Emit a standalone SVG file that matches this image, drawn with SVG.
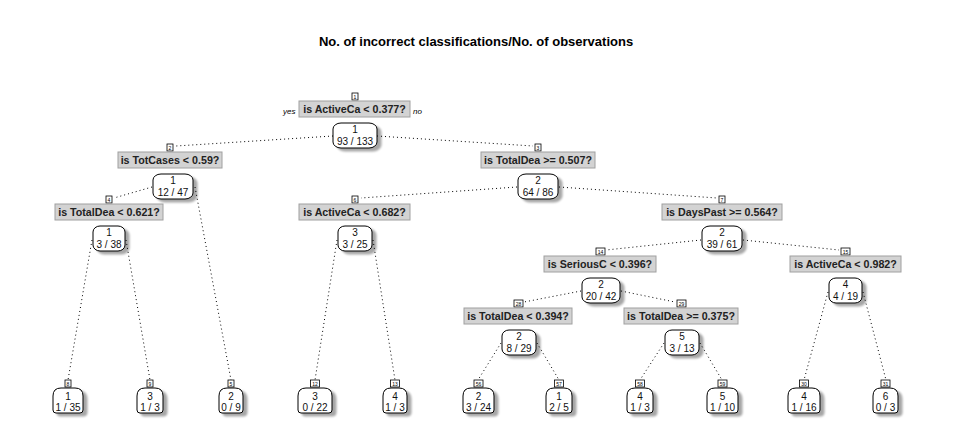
<svg xmlns="http://www.w3.org/2000/svg" width="953" height="444" viewBox="0 0 953 444">
<defs>
<filter id="sh" x="-30%" y="-30%" width="170%" height="180%">
<feGaussianBlur in="SourceAlpha" stdDeviation="1.3"/>
<feOffset dx="4" dy="3"/>
<feComponentTransfer><feFuncA type="linear" slope="0.35"/></feComponentTransfer>
<feMerge><feMergeNode/><feMergeNode in="SourceGraphic"/></feMerge>
</filter>
</defs>
<style>
.title{font-family:"Liberation Sans",Arial,sans-serif;font-size:13px;font-weight:bold;fill:#000}
.lab{fill:#d3d3d3;stroke:#a0a0a0;stroke-width:1}
.labt{font-family:"Liberation Sans",Arial,sans-serif;font-size:10.7px;font-weight:bold;fill:#222;text-anchor:middle}
.box{fill:#fff;stroke:#000;stroke-width:1;filter:url(#sh)}
.nt{font-family:"Liberation Sans",Arial,sans-serif;font-size:10px;fill:#111;text-anchor:middle}
.idb{fill:#fff;stroke:#000;stroke-width:0.8}
.idt{font-family:"Liberation Sans",Arial,sans-serif;font-size:5px;fill:#000;text-anchor:middle}
.yn{font-family:"Liberation Sans",Arial,sans-serif;font-size:8px;font-style:italic;fill:#000}
.br{fill:none;stroke:#000;stroke-width:1;stroke-dasharray:1 3}
</style>
<rect width="953" height="444" fill="#fff"/>
<text class="title" x="476" y="46" text-anchor="middle">No. of incorrect classifications/No. of observations</text>

<g id="connectors">
<line class="br" x1="333" y1="136" x2="176" y2="146"/>
<line class="br" x1="377" y1="136" x2="533" y2="146"/>
<line class="br" x1="152" y1="187" x2="114" y2="198"/>
<line class="br" x1="195" y1="187" x2="231" y2="380"/>
<line class="br" x1="92" y1="240" x2="68" y2="380"/>
<line class="br" x1="126" y1="240" x2="150" y2="380"/>
<line class="br" x1="517" y1="187" x2="361" y2="198"/>
<line class="br" x1="559" y1="187" x2="717" y2="198"/>
<line class="br" x1="337" y1="240" x2="315" y2="380"/>
<line class="br" x1="373" y1="240" x2="395" y2="380"/>
<line class="br" x1="701" y1="240" x2="606" y2="250"/>
<line class="br" x1="743" y1="240" x2="839" y2="250"/>
<line class="br" x1="581" y1="291" x2="524" y2="302"/>
<line class="br" x1="621" y1="291" x2="675" y2="302"/>
<line class="br" x1="828" y1="292" x2="804" y2="380"/>
<line class="br" x1="863" y1="292" x2="886" y2="380"/>
<line class="br" x1="501" y1="343" x2="478" y2="380"/>
<line class="br" x1="537" y1="343" x2="559" y2="380"/>
<line class="br" x1="664" y1="343" x2="640" y2="380"/>
<line class="br" x1="700" y1="343" x2="722" y2="380"/>
</g>

<!-- interior nodes -->
<g id="node1">
<rect class="idb" x="352" y="93" width="6" height="7"/><text class="idt" x="355" y="98.5">1</text>
<rect class="lab" x="299" y="101" width="111" height="16"/><text class="labt" x="354.5" y="113">is ActiveCa &lt; 0.377?</text>
<text class="yn" x="283" y="114">yes</text><text class="yn" x="413" y="114">no</text>
<rect class="box" x="333" y="123" width="44" height="25" rx="8" ry="6"/>
<text class="nt" x="355" y="133">1</text><text class="nt" x="355" y="145">93 / 133</text>
</g>
<g id="node2">
<rect class="idb" x="167" y="144" width="6" height="7"/><text class="idt" x="170" y="149.5">2</text>
<rect class="lab" x="118" y="152" width="104" height="16"/><text class="labt" x="170" y="164">is TotCases &lt; 0.59?</text>
<rect class="box" x="153" y="174" width="40" height="25" rx="8" ry="6"/>
<text class="nt" x="173" y="184">1</text><text class="nt" x="173" y="196">12 / 47</text>
</g>
<g id="node3">
<rect class="idb" x="535" y="144" width="6" height="7"/><text class="idt" x="538" y="149.5">3</text>
<rect class="lab" x="481" y="152" width="114" height="16"/><text class="labt" x="538" y="164">is TotalDea &gt;= 0.507?</text>
<rect class="box" x="518" y="174" width="40" height="25" rx="8" ry="6"/>
<text class="nt" x="538" y="184">2</text><text class="nt" x="538" y="196">64 / 86</text>
</g>
<g id="node4">
<rect class="idb" x="106" y="196" width="6" height="7"/><text class="idt" x="109" y="201.5">4</text>
<rect class="lab" x="55" y="204" width="108" height="16"/><text class="labt" x="109" y="216">is TotalDea &lt; 0.621?</text>
<rect class="box" x="93" y="226" width="32" height="25" rx="7" ry="6"/>
<text class="nt" x="109" y="236">1</text><text class="nt" x="109" y="248">3 / 38</text>
</g>
<g id="node6">
<rect class="idb" x="352" y="196" width="6" height="7"/><text class="idt" x="355" y="201.5">6</text>
<rect class="lab" x="299" y="204" width="111" height="16"/><text class="labt" x="354.5" y="216">is ActiveCa &lt; 0.682?</text>
<rect class="box" x="338" y="226" width="34" height="25" rx="7" ry="6"/>
<text class="nt" x="355" y="236">3</text><text class="nt" x="355" y="248">3 / 25</text>
</g>
<g id="node7">
<rect class="idb" x="719" y="196" width="6" height="7"/><text class="idt" x="722" y="201.5">7</text>
<rect class="lab" x="662" y="204" width="120" height="16"/><text class="labt" x="722" y="216">is DaysPast &gt;= 0.564?</text>
<rect class="box" x="702" y="226" width="40" height="25" rx="8" ry="6"/>
<text class="nt" x="722" y="236">2</text><text class="nt" x="722" y="248">39 / 61</text>
</g>
<g id="node14">
<rect class="idb" x="596" y="248" width="9" height="7"/><text class="idt" x="600.5" y="253.5">14</text>
<rect class="lab" x="544" y="256" width="112" height="16"/><text class="labt" x="600" y="268">is SeriousC &lt; 0.396?</text>
<rect class="box" x="582" y="278" width="38" height="25" rx="8" ry="6"/>
<text class="nt" x="601" y="288">2</text><text class="nt" x="601" y="300">20 / 42</text>
</g>
<g id="node15">
<rect class="idb" x="841" y="248" width="9" height="7"/><text class="idt" x="845.5" y="253.5">15</text>
<rect class="lab" x="790" y="256" width="111" height="16"/><text class="labt" x="845.5" y="268">is ActiveCa &lt; 0.982?</text>
<rect class="box" x="829" y="278" width="33" height="25" rx="7" ry="6"/>
<text class="nt" x="845.5" y="288">4</text><text class="nt" x="845.5" y="300">4 / 19</text>
</g>
<g id="node28">
<rect class="idb" x="514" y="300" width="9" height="7"/><text class="idt" x="518.5" y="305.5">28</text>
<rect class="lab" x="464" y="308" width="108" height="16"/><text class="labt" x="518" y="320">is TotalDea &lt; 0.394?</text>
<rect class="box" x="502" y="330" width="34" height="25" rx="7" ry="6"/>
<text class="nt" x="519" y="340">2</text><text class="nt" x="519" y="352">8 / 29</text>
</g>
<g id="node29">
<rect class="idb" x="677" y="300" width="9" height="7"/><text class="idt" x="681.5" y="305.5">29</text>
<rect class="lab" x="624" y="308" width="114" height="16"/><text class="labt" x="681" y="320">is TotalDea &gt;= 0.375?</text>
<rect class="box" x="665" y="330" width="34" height="25" rx="7" ry="6"/>
<text class="nt" x="682" y="340">5</text><text class="nt" x="682" y="352">3 / 13</text>
</g>

<!-- leaves -->
<g id="node8">
<path class="box" d="M53 396 Q53 388 61 388 L75 388 Q83 388 83 396 L83 410 Q83 413 80 413 L56 413 Q53 413 53 410 Z"/>
<rect class="idb" x="65" y="380" width="6" height="7"/><text class="idt" x="68" y="385.5">8</text>
<text class="nt" x="68" y="400">1</text><text class="nt" x="68" y="410.5">1 / 35</text>
</g>
<g id="node9">
<path class="box" d="M137 396 Q137 388 145 388 L155 388 Q163 388 163 396 L163 410 Q163 413 160 413 L140 413 Q137 413 137 410 Z"/>
<rect class="idb" x="147" y="380" width="6" height="7"/><text class="idt" x="150" y="385.5">9</text>
<text class="nt" x="150" y="400">3</text><text class="nt" x="150" y="410.5">1 / 3</text>
</g>
<g id="node5">
<path class="box" d="M219 396 Q219 388 227 388 L235 388 Q243 388 243 396 L243 410 Q243 413 240 413 L222 413 Q219 413 219 410 Z"/>
<rect class="idb" x="228" y="380" width="6" height="7"/><text class="idt" x="231" y="385.5">5</text>
<text class="nt" x="231" y="400">2</text><text class="nt" x="231" y="410.5">0 / 9</text>
</g>
<g id="node12">
<path class="box" d="M298 396 Q298 388 306 388 L324 388 Q332 388 332 396 L332 410 Q332 413 329 413 L301 413 Q298 413 298 410 Z"/>
<rect class="idb" x="310.5" y="380" width="9" height="7"/><text class="idt" x="315" y="385.5">12</text>
<text class="nt" x="315" y="400">3</text><text class="nt" x="315" y="410.5">0 / 22</text>
</g>
<g id="node13">
<path class="box" d="M383 396 Q383 388 391 388 L399 388 Q407 388 407 396 L407 410 Q407 413 404 413 L386 413 Q383 413 383 410 Z"/>
<rect class="idb" x="390.5" y="380" width="9" height="7"/><text class="idt" x="395" y="385.5">13</text>
<text class="nt" x="395" y="400">4</text><text class="nt" x="395" y="410.5">1 / 3</text>
</g>
<g id="node56">
<path class="box" d="M463 396 Q463 388 471 388 L486 388 Q494 388 494 396 L494 410 Q494 413 491 413 L466 413 Q463 413 463 410 Z"/>
<rect class="idb" x="474" y="380" width="9" height="7"/><text class="idt" x="478.5" y="385.5">56</text>
<text class="nt" x="478.5" y="400">2</text><text class="nt" x="478.5" y="410.5">3 / 24</text>
</g>
<g id="node57">
<path class="box" d="M546 396 Q546 388 554 388 L564 388 Q572 388 572 396 L572 410 Q572 413 569 413 L549 413 Q546 413 546 410 Z"/>
<rect class="idb" x="554.5" y="380" width="9" height="7"/><text class="idt" x="559" y="385.5">57</text>
<text class="nt" x="559" y="400">1</text><text class="nt" x="559" y="410.5">2 / 5</text>
</g>
<g id="node58">
<path class="box" d="M627 396 Q627 388 635 388 L645 388 Q653 388 653 396 L653 410 Q653 413 650 413 L630 413 Q627 413 627 410 Z"/>
<rect class="idb" x="635.5" y="380" width="9" height="7"/><text class="idt" x="640" y="385.5">58</text>
<text class="nt" x="640" y="400">4</text><text class="nt" x="640" y="410.5">1 / 3</text>
</g>
<g id="node59">
<path class="box" d="M707 396 Q707 388 715 388 L730 388 Q738 388 738 396 L738 410 Q738 413 735 413 L710 413 Q707 413 707 410 Z"/>
<rect class="idb" x="718" y="380" width="9" height="7"/><text class="idt" x="722.5" y="385.5">59</text>
<text class="nt" x="722.5" y="400">5</text><text class="nt" x="722.5" y="410.5">1 / 10</text>
</g>
<g id="node30">
<path class="box" d="M788 396 Q788 388 796 388 L812 388 Q820 388 820 396 L820 410 Q820 413 817 413 L791 413 Q788 413 788 410 Z"/>
<rect class="idb" x="799.5" y="380" width="9" height="7"/><text class="idt" x="804" y="385.5">30</text>
<text class="nt" x="804" y="400">4</text><text class="nt" x="804" y="410.5">1 / 16</text>
</g>
<g id="node31">
<path class="box" d="M873 396 Q873 388 881 388 L890 388 Q898 388 898 396 L898 410 Q898 413 895 413 L876 413 Q873 413 873 410 Z"/>
<rect class="idb" x="881" y="380" width="9" height="7"/><text class="idt" x="885.5" y="385.5">31</text>
<text class="nt" x="885.5" y="400">6</text><text class="nt" x="885.5" y="410.5">0 / 3</text>
</g>
</svg>
